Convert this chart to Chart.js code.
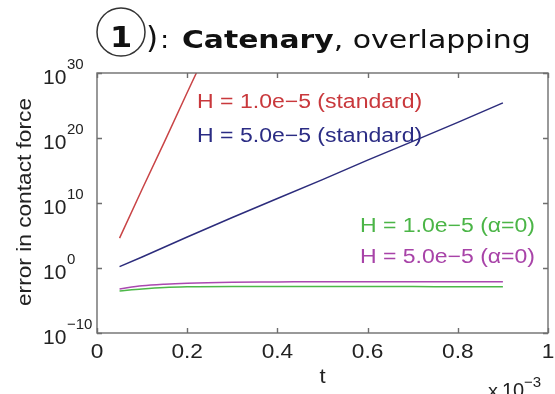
<!DOCTYPE html>
<html>
<head>
<meta charset="utf-8">
<script src="https://cdn.jsdelivr.net/npm/chart.js@4/dist/chart.umd.min.js"></script>
<style>
  html, body { margin: 0; padding: 0; background: #fff; }
  canvas { display: block; }
</style>
</head>
<body>
<canvas id="errChart" width="555" height="394"></canvas>
<script>
// time samples (s) and contact force error per run
const T_RED = [0.05e-3, 0.10e-3, 0.15e-3, 0.20e-3, 0.25e-3];
const ERR_RED = [4e4, 1.3e12, 3e19, 1e27, 2.5e34];

const T_BLUE = [0.05e-3, 0.10e-3, 0.20e-3, 0.30e-3, 0.40e-3, 0.50e-3, 0.60e-3, 0.70e-3, 0.80e-3, 0.90e-3];
const ERR_BLUE = [1.6, 50, 6e4, 6e7, 5e10, 4e13, 4e16, 3e19, 2.5e22, 2.5e25];

const T_LOW = [0.05e-3, 0.10e-3, 0.15e-3, 0.20e-3, 0.30e-3, 0.40e-3, 0.50e-3, 0.60e-3, 0.70e-3, 0.80e-3, 0.90e-3];
const ERR_GREEN = [3e-4, 6e-4, 1e-3, 1.25e-3, 1.4e-3, 1.4e-3, 1.4e-3, 1.4e-3, 1.4e-3, 1.3e-3, 1.3e-3];
const ERR_MAGENTA = [6e-4, 1.8e-3, 3.2e-3, 4.5e-3, 6.3e-3, 7e-3, 8e-3, 8e-3, 8e-3, 8e-3, 8e-3];

const SERIES_NAMES = ['H = 1.0e\u22125 (standard)', 'H = 5.0e\u22125 (standard)', 'H = 1.0e\u22125 (\u03b1=0)', 'H = 5.0e\u22125 (\u03b1=0)'];
const SERIES_COLORS = ['#c9383c', '#2b2c84', '#4bb547', '#a843a8'];
// where each series name sits, in data units (left edge, baseline)
const NAME_T = [0.222e-3, 0.222e-3, 0.583e-3, 0.583e-3];
const NAME_V = [4e24, 2.5e19, 3e5, 6];

const X_TICKS = [0, 0.2e-3, 0.4e-3, 0.6e-3, 0.8e-3, 1e-3];
const X_TICK_LABELS = ['0', '0.2', '0.4', '0.6', '0.8', '1'];
const Y_TICKS = [1e-10, 1e0, 1e10, 1e20, 1e30];
const Y_TICK_EXPONENTS = ['\u221210', '0', '10', '20', '30'];

const FRAME = '#6e6e6e';
const INK = '#222';
const SANS = '"Liberation Sans", Arial, sans-serif';

function pts(ts, vs) {
  return ts.map(function (t, i) { return { x: t, y: vs[i] }; });
}

function stretchText(ctx, text, x, y, font, color, align, sx) {
  ctx.save();
  ctx.font = font;
  ctx.fillStyle = color;
  ctx.textAlign = align || 'left';
  ctx.textBaseline = 'alphabetic';
  ctx.translate(x, y);
  ctx.scale(sx || 1, 1);
  ctx.fillText(text, 0, 0);
  ctx.restore();
}

function textWidth(ctx, text, font, sx) {
  ctx.save();
  ctx.font = font;
  const w = ctx.measureText(text).width * (sx || 1);
  ctx.restore();
  return w;
}

// boxed axes with inward ticks, power-of-ten labels, titles and series names
const framePlugin = {
  id: 'matlabFrame',
  afterDraw: function (chart) {
    const ctx = chart.ctx;
    const a = chart.chartArea;
    const xs = chart.scales.x;
    const ys = chart.scales.y;
    const tick = 5;

    ctx.save();
    ctx.strokeStyle = FRAME;
    ctx.lineWidth = 1.4;
    ctx.strokeRect(a.left, a.top, a.right - a.left, a.bottom - a.top);
    ctx.beginPath();
    X_TICKS.forEach(function (v) {
      const px = Math.round(xs.getPixelForValue(v)) + 0.5;
      ctx.moveTo(px, a.bottom); ctx.lineTo(px, a.bottom - tick);
      ctx.moveTo(px, a.top); ctx.lineTo(px, a.top + tick);
    });
    Y_TICKS.forEach(function (v) {
      const py = Math.round(ys.getPixelForValue(v)) + 0.5;
      ctx.moveTo(a.left, py); ctx.lineTo(a.left + tick, py);
      ctx.moveTo(a.right, py); ctx.lineTo(a.right - tick, py);
    });
    ctx.stroke();
    ctx.restore();

    // x tick labels
    X_TICKS.forEach(function (v, i) {
      stretchText(ctx, X_TICK_LABELS[i], xs.getPixelForValue(v), a.bottom + 25, '21px ' + SANS, INK, 'center', 1.08);
    });
    stretchText(ctx, 't', (a.left + a.right) / 2, a.bottom + 50, '21px ' + SANS, INK, 'center', 1.05);
    // axis multiplier
    stretchText(ctx, 'x', a.left + 391, a.bottom + 64, '19px ' + SANS, INK, 'left', 1.05);
    stretchText(ctx, '10', a.left + 405, a.bottom + 64, '20px ' + SANS, INK, 'left', 1.0);
    stretchText(ctx, '\u22123', a.left + 427, a.bottom + 54, '15px ' + SANS, INK, 'left', 1.0);

    // y tick labels as 10^n
    Y_TICKS.forEach(function (v, i) {
      const py = ys.getPixelForValue(v);
      stretchText(ctx, '10', 43, py + 10.5, '21px ' + SANS, INK, 'left', 1.0);
      stretchText(ctx, Y_TICK_EXPONENTS[i], 67, py - 4, '15px ' + SANS, INK, 'left', 1.0);
    });

    // y axis title
    ctx.save();
    ctx.translate(31, (a.top + a.bottom) / 2 - 1);
    ctx.rotate(-Math.PI / 2);
    stretchText(ctx, 'error in contact force', 0, 0, '21px ' + SANS, INK, 'center', 1.08);
    ctx.restore();

    // series names
    SERIES_NAMES.forEach(function (name, i) {
      stretchText(ctx, name, xs.getPixelForValue(NAME_T[i]), ys.getPixelForValue(NAME_V[i]),
        '20px ' + SANS, SERIES_COLORS[i], 'left', 1.15);
    });

    // heading with circled number
    const dv = '"DejaVu Sans", sans-serif';
    ctx.save();
    ctx.strokeStyle = '#333';
    ctx.lineWidth = 1.5;
    ctx.beginPath();
    ctx.arc(121, 32, 24, 0, Math.PI * 2);
    ctx.stroke();
    ctx.restore();
    stretchText(ctx, '1', 121, 47, 'bold 29px ' + dv, '#111', 'center', 1.1);
    stretchText(ctx, ')', 146, 48, '31px ' + dv, '#111', 'left', 1.0);
    stretchText(ctx, ':', 160, 48, '25px ' + dv, '#111', 'left', 1.1);
    const bold = 'bold 25px ' + dv;
    stretchText(ctx, 'Catenary', 182, 48, bold, '#111', 'left', 1.19);
    const cx = 182 + textWidth(ctx, 'Catenary', bold, 1.19);
    stretchText(ctx, ', overlapping', cx, 48, '25px ' + dv, '#111', 'left', 1.2);
  }
};

const lineStyle = { borderWidth: 1.5, pointRadius: 0, fill: false };

new Chart(document.getElementById('errChart').getContext('2d'), {
  type: 'line',
  data: {
    datasets: [
      Object.assign({ label: SERIES_NAMES[0], data: pts(T_RED, ERR_RED), borderColor: '#c94446', tension: 0 }, lineStyle),
      Object.assign({ label: SERIES_NAMES[1], data: pts(T_BLUE, ERR_BLUE), borderColor: '#2c2c7c', tension: 0 }, lineStyle),
      Object.assign({ label: SERIES_NAMES[2], data: pts(T_LOW, ERR_GREEN), borderColor: '#4cb848', cubicInterpolationMode: 'monotone' }, lineStyle),
      Object.assign({ label: SERIES_NAMES[3], data: pts(T_LOW, ERR_MAGENTA), borderColor: '#aa48b0', cubicInterpolationMode: 'monotone' }, lineStyle)
    ]
  },
  options: {
    responsive: false,
    animation: false,
    devicePixelRatio: 1,
    layout: { padding: { left: 97, top: 73, right: 7, bottom: 61 } },
    plugins: { legend: { display: false }, tooltip: { enabled: false }, title: { display: false } },
    scales: {
      x: {
        type: 'linear', min: 0, max: 1e-3,
        ticks: { display: false }, grid: { display: false }, border: { display: false },
        afterFit: function (s) { s.height = 0; }
      },
      y: {
        type: 'logarithmic', min: 1e-10, max: 1e30,
        ticks: { display: false }, grid: { display: false }, border: { display: false },
        afterFit: function (s) { s.width = 0; }
      }
    }
  },
  plugins: [framePlugin]
});
</script>
</body>
</html>
